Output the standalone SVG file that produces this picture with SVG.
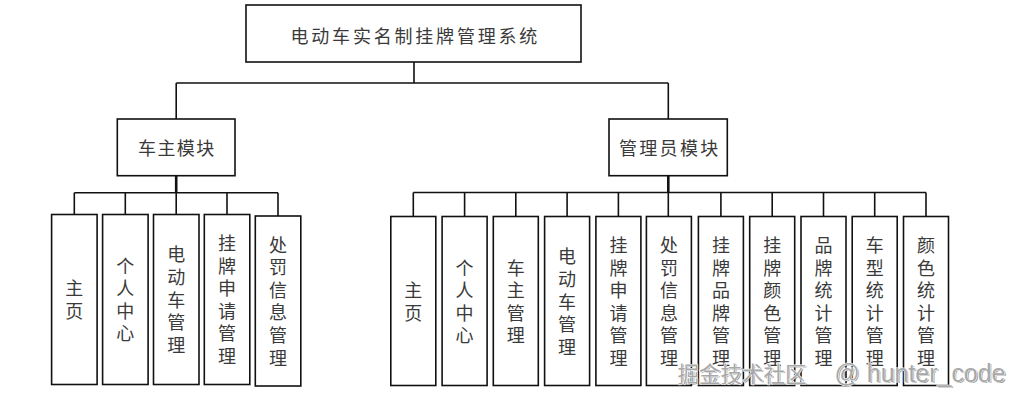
<svg xmlns="http://www.w3.org/2000/svg" width="1032" height="402" viewBox="0 0 1032 402">
<style>
.box{fill:#fff;stroke:#111;stroke-width:1.6}
.ln{fill:none;stroke:#111;stroke-width:1.6}
.stem{fill:none;stroke:#111;stroke-width:2.6}
.t{font-family:"Noto Sans CJK SC","Noto Sans CJK JP",sans-serif;font-size:18px;fill:#3a3a3a;dominant-baseline:central}
.v{text-anchor:middle}
.wm{font-family:"Noto Sans CJK SC","Liberation Sans",sans-serif}
.wl{font-family:"Liberation Sans","Noto Sans",sans-serif}
.wf{fill:#a8a8a8;stroke:#fff;stroke-width:1.2;paint-order:stroke}
.ws{fill:#444;opacity:0.55}
</style>
<rect width="1032" height="402" fill="#fff"/>
<g id="connectors">
<path class="ln" d="M414 62V83M176.2 83H668.3M176.2 83V119M668.3 83V119"/>
<path class="stem" d="M176.2 175.7V192.7M668.3 175.7V192.5"/>
<path class="ln" d="M74.3 192.7H278M74.3 192.7V214.5M125.3 192.7V214.5M176.2 192.7V214.5M227 192.7V214.5M278 192.7V216"/>
<path class="ln" d="M413.3 192.5H926M413.3 192.5V216.5M464.6 192.5V216.5M515.8 192.5V216.5M567.1 192.5V216.5M618.4 192.5V216.5M668.3 192.5V216.5M720.9 192.5V216.5M772.2 192.5V216.5M823.5 192.5V216.5M874.7 192.5V216.5M926 192.5V216.5"/>
</g>
<g id="root">
<rect class="box" x="246" y="5" width="335" height="57"/>
<text class="t" x="290.5" y="34.5" style="letter-spacing:2.8px">电动车实名制挂牌管理系统</text>
</g>
<g id="owner">
<rect class="box" x="117.3" y="119" width="117.7" height="56.7"/>
<text class="t" x="138" y="147" style="letter-spacing:1.4px">车主模块</text>
</g>
<g id="admin">
<rect class="box" x="609" y="119" width="118.3" height="56.7"/>
<text class="t" x="619" y="147" style="letter-spacing:2.3px">管理员模块</text>
</g>
<g id="o1"><rect class="box" x="51.6" y="214.5" width="45.5" height="170"/>
<text class="t v"><tspan x="74.3" y="287.2">主</tspan><tspan x="74.3" y="309.8">页</tspan></text></g>
<g id="o2"><rect class="box" x="102.6" y="214.5" width="45.5" height="170"/>
<text class="t v"><tspan x="125.3" y="264.6">个</tspan><tspan x="125.3" y="287.2">人</tspan><tspan x="125.3" y="309.8">中</tspan><tspan x="125.3" y="332.4">心</tspan></text></g>
<g id="o3"><rect class="box" x="153.5" y="214.5" width="45.5" height="170"/>
<text class="t v"><tspan x="176.2" y="253.3">电</tspan><tspan x="176.2" y="275.9">动</tspan><tspan x="176.2" y="298.5">车</tspan><tspan x="176.2" y="321.1">管</tspan><tspan x="176.2" y="343.7">理</tspan></text></g>
<g id="o4"><rect class="box" x="204.3" y="214.5" width="45.5" height="170"/>
<text class="t v"><tspan x="227" y="242">挂</tspan><tspan x="227" y="264.6">牌</tspan><tspan x="227" y="287.2">申</tspan><tspan x="227" y="309.8">请</tspan><tspan x="227" y="332.4">管</tspan><tspan x="227" y="355">理</tspan></text></g>
<g id="o5"><rect class="box" x="255.3" y="216" width="45.5" height="170"/>
<text class="t v"><tspan x="278" y="243.5">处</tspan><tspan x="278" y="266.1">罚</tspan><tspan x="278" y="288.7">信</tspan><tspan x="278" y="311.3">息</tspan><tspan x="278" y="333.9">管</tspan><tspan x="278" y="356.5">理</tspan></text></g>
<g id="a1"><rect class="box" x="390.8" y="216.5" width="45" height="169"/>
<text class="t v"><tspan x="413.3" y="289.2">主</tspan><tspan x="413.3" y="311.8">页</tspan></text></g>
<g id="a2"><rect class="box" x="442.1" y="216.5" width="45" height="169"/>
<text class="t v"><tspan x="464.6" y="266.6">个</tspan><tspan x="464.6" y="289.2">人</tspan><tspan x="464.6" y="311.8">中</tspan><tspan x="464.6" y="334.4">心</tspan></text></g>
<g id="a3"><rect class="box" x="493.3" y="216.5" width="45" height="169"/>
<text class="t v"><tspan x="515.8" y="266.6">车</tspan><tspan x="515.8" y="289.2">主</tspan><tspan x="515.8" y="311.8">管</tspan><tspan x="515.8" y="334.4">理</tspan></text></g>
<g id="a4"><rect class="box" x="544.6" y="216.5" width="45" height="169"/>
<text class="t v"><tspan x="567.1" y="255.3">电</tspan><tspan x="567.1" y="277.9">动</tspan><tspan x="567.1" y="300.5">车</tspan><tspan x="567.1" y="323.1">管</tspan><tspan x="567.1" y="345.7">理</tspan></text></g>
<g id="a5"><rect class="box" x="595.9" y="216.5" width="45" height="169"/>
<text class="t v"><tspan x="618.4" y="244">挂</tspan><tspan x="618.4" y="266.6">牌</tspan><tspan x="618.4" y="289.2">申</tspan><tspan x="618.4" y="311.8">请</tspan><tspan x="618.4" y="334.4">管</tspan><tspan x="618.4" y="357">理</tspan></text></g>
<g id="a6"><rect class="box" x="646.4" y="216.5" width="45" height="169"/>
<text class="t v"><tspan x="668.9" y="244">处</tspan><tspan x="668.9" y="266.6">罚</tspan><tspan x="668.9" y="289.2">信</tspan><tspan x="668.9" y="311.8">息</tspan><tspan x="668.9" y="334.4">管</tspan><tspan x="668.9" y="357">理</tspan></text></g>
<g id="a7"><rect class="box" x="698.4" y="216.5" width="45" height="169"/>
<text class="t v"><tspan x="720.9" y="244">挂</tspan><tspan x="720.9" y="266.6">牌</tspan><tspan x="720.9" y="289.2">品</tspan><tspan x="720.9" y="311.8">牌</tspan><tspan x="720.9" y="334.4">管</tspan><tspan x="720.9" y="357">理</tspan></text></g>
<g id="a8"><rect class="box" x="749.7" y="216.5" width="45" height="169"/>
<text class="t v"><tspan x="772.2" y="244">挂</tspan><tspan x="772.2" y="266.6">牌</tspan><tspan x="772.2" y="289.2">颜</tspan><tspan x="772.2" y="311.8">色</tspan><tspan x="772.2" y="334.4">管</tspan><tspan x="772.2" y="357">理</tspan></text></g>
<g id="a9"><rect class="box" x="801" y="216.5" width="45" height="169"/>
<text class="t v"><tspan x="823.5" y="244">品</tspan><tspan x="823.5" y="266.6">牌</tspan><tspan x="823.5" y="289.2">统</tspan><tspan x="823.5" y="311.8">计</tspan><tspan x="823.5" y="334.4">管</tspan><tspan x="823.5" y="357">理</tspan></text></g>
<g id="a10"><rect class="box" x="852.2" y="216.5" width="45" height="169"/>
<text class="t v"><tspan x="874.7" y="244">车</tspan><tspan x="874.7" y="266.6">型</tspan><tspan x="874.7" y="289.2">统</tspan><tspan x="874.7" y="311.8">计</tspan><tspan x="874.7" y="334.4">管</tspan><tspan x="874.7" y="357">理</tspan></text></g>
<g id="a11"><rect class="box" x="903.5" y="216.5" width="45" height="169"/>
<text class="t v"><tspan x="926" y="244">颜</tspan><tspan x="926" y="266.6">色</tspan><tspan x="926" y="289.2">统</tspan><tspan x="926" y="311.8">计</tspan><tspan x="926" y="334.4">管</tspan><tspan x="926" y="357">理</tspan></text></g>
<g id="watermark">
<text class="wm ws" x="678.8" y="382.8" font-size="22" textLength="129" lengthAdjust="spacingAndGlyphs">掘金技术社区</text>
<text class="wl ws" x="835.8" y="382.8" font-size="25" textLength="171" lengthAdjust="spacingAndGlyphs">@ hunter_code</text>
<text class="wm wf" x="677.5" y="381.5" font-size="22" textLength="129" lengthAdjust="spacingAndGlyphs">掘金技术社区</text>
<text class="wl wf" x="834.5" y="381.5" font-size="25" textLength="171" lengthAdjust="spacingAndGlyphs">@ hunter_code</text>
</g>
</svg>
